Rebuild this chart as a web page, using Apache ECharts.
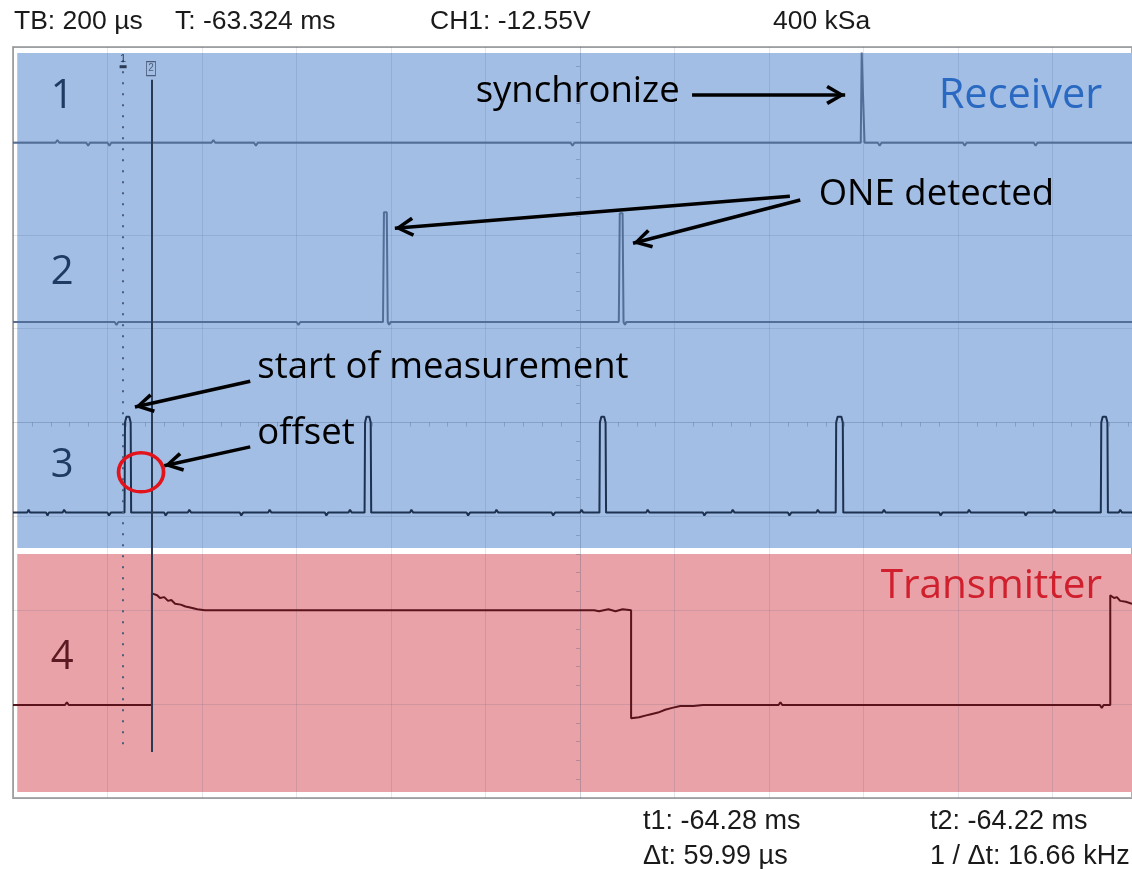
<!DOCTYPE html>
<html><head><meta charset="utf-8">
<script src="https://cdn.jsdelivr.net/npm/echarts@6/dist/echarts.min.js"></script>
<style>html,body{margin:0;padding:0;background:#fff}#c{width:1132px;height:869px}</style>
</head><body><div id="c"></div><script>
// Time axis in µs relative to screen centre (200 µs / div), vertical axis in divisions relative to centre.
const xTicks = { min: -1200, max: 1168, interval: 200 };
const yTicks = { min: -4, max: 4, interval: 1 };

// Coloured channel bands [x0, y0, x1, y1]
const receiverBand = [-1191, 3.936, 1168, -1.337];
const transmitterBand = [-1191, -1.401, 1168, -3.936];

// Channel 1 (synchronize)
const ch1 = [[-1200,2.98],[-1110,2.98],[-1106,3.01],[-1102,2.98],[-1045,2.98],[-1041,2.95],[-1037,2.98],[-1000,2.98],[-996,2.95],[-992,2.98],[-890,2.98],[-886,3.00],[-882,2.98],[-780,2.98],[-776,3.01],[-772,2.98],[-690,2.98],[-686,2.95],[-682,2.98],[-560,2.98],[-556,2.96],[-552,2.98],[-440,2.98],[-436,3.00],[-432,2.98],[-300,2.98],[-296,2.96],[-292,2.98],[-160,2.98],[-156,3.00],[-152,2.98],[-20,2.98],[-16,2.95],[-12,2.98],[130,2.98],[134,2.96],[138,2.98],[280,2.98],[284,3.00],[288,2.98],[400,2.98],[404,2.96],[408,2.98],[594,2.98],[596,3.94],[600,3.94],[602,2.98],[630,2.98],[634,2.95],[638,2.98],[690,2.98],[694,2.96],[698,2.98],[810,2.98],[814,2.95],[818,2.98],[920,2.98],[924,2.96],[928,2.98],[960,2.98],[964,2.95],[968,2.98],[1050,2.98],[1054,2.96],[1058,2.98],[1168,2.98]];

// Channel 2 (ONE detected)
const ch2 = [[-1200,1.07],[-1130,1.07],[-1126,1.05],[-1122,1.07],[-1060,1.07],[-1056,1.09],[-1052,1.07],[-985,1.07],[-981,1.04],[-977,1.07],[-900,1.07],[-896,1.05],[-892,1.07],[-800,1.07],[-796,1.09],[-792,1.07],[-700,1.07],[-696,1.05],[-692,1.07],[-600,1.07],[-596,1.04],[-592,1.07],[-500,1.07],[-496,1.05],[-492,1.07],[-417,1.07],[-415,2.24],[-409,2.24],[-407,1.07],[-404,1.04],[-401,1.07],[-330,1.07],[-326,1.05],[-322,1.07],[-250,1.07],[-246,1.09],[-242,1.07],[-170,1.07],[-166,1.05],[-162,1.07],[-90,1.07],[-86,1.05],[-82,1.07],[0,1.07],[4,1.09],[8,1.07],[60,1.07],[64,1.05],[68,1.07],[82,1.07],[84,2.23],[90,2.23],[92,1.07],[95,1.04],[98,1.07],[140,1.07],[144,1.09],[148,1.07],[220,1.07],[224,1.05],[228,1.07],[320,1.07],[324,1.05],[328,1.07],[420,1.07],[424,1.09],[428,1.07],[520,1.07],[524,1.05],[528,1.07],[620,1.07],[624,1.05],[628,1.07],[720,1.07],[724,1.09],[728,1.07],[820,1.07],[824,1.05],[828,1.07],[920,1.07],[924,1.05],[928,1.07],[1020,1.07],[1024,1.09],[1028,1.07],[1120,1.07],[1124,1.05],[1128,1.07],[1168,1.07]];

// Channel 3 (measurement pulses)
const ch3 = [[-1200,-0.96],[-1170,-0.96],[-1167,-0.93],[-1164,-0.96],[-1130,-0.96],[-1127,-0.99],[-1124,-0.96],[-1095,-0.96],[-1092,-0.93],[-1088,-0.96],[-1040,-0.96],[-1037,-0.94],[-1033,-0.96],[-1000,-0.96],[-997,-0.99],[-993,-0.96],
[-964,-0.96],[-963,0.0],[-960,0.06],[-954,0.06],[-951,0.0],[-950,-0.96],
[-930,-0.96],[-927,-0.94],[-923,-0.96],[-880,-0.96],[-877,-0.99],[-873,-0.96],[-830,-0.96],[-827,-0.93],[-823,-0.96],[-770,-0.96],[-767,-0.94],[-763,-0.96],[-720,-0.96],[-717,-0.99],[-713,-0.96],[-660,-0.96],[-657,-0.93],[-653,-0.96],[-600,-0.96],[-597,-0.94],[-593,-0.96],[-540,-0.96],[-537,-0.99],[-533,-0.96],[-490,-0.96],[-487,-0.93],[-483,-0.96],
[-456,-0.96],[-455,0.0],[-452,0.06],[-446,0.06],[-443,0.0],[-442,-0.96],
[-420,-0.96],[-417,-0.98],[-413,-0.96],[-360,-0.96],[-357,-0.93],[-353,-0.96],[-300,-0.96],[-297,-0.94],[-293,-0.96],[-240,-0.96],[-237,-0.99],[-233,-0.96],[-180,-0.96],[-177,-0.93],[-173,-0.96],[-120,-0.96],[-117,-0.94],[-113,-0.96],[-60,-0.96],[-57,-0.99],[-53,-0.96],[0,-0.96],[3,-0.93],[7,-0.96],
[41,-0.96],[42,0.0],[45,0.06],[51,0.06],[54,0.0],[55,-0.96],
[80,-0.96],[83,-0.98],[87,-0.96],[140,-0.96],[143,-0.93],[147,-0.96],[200,-0.96],[203,-0.94],[207,-0.96],[260,-0.96],[263,-0.99],[267,-0.96],[320,-0.96],[323,-0.93],[327,-0.96],[380,-0.96],[383,-0.94],[387,-0.96],[440,-0.96],[443,-0.99],[447,-0.96],[500,-0.96],[503,-0.93],[507,-0.96],
[541,-0.96],[542,0.0],[545,0.06],[553,0.06],[556,0.0],[557,-0.96],
[580,-0.96],[583,-0.98],[587,-0.96],[640,-0.96],[643,-0.93],[647,-0.96],[700,-0.96],[703,-0.94],[707,-0.96],[760,-0.96],[763,-0.99],[767,-0.96],[820,-0.96],[823,-0.93],[827,-0.96],[880,-0.96],[883,-0.94],[887,-0.96],[940,-0.96],[943,-0.99],[947,-0.96],[1000,-0.96],[1003,-0.93],[1007,-0.96],[1060,-0.96],[1063,-0.94],[1067,-0.96],
[1102,-0.96],[1103,0.0],[1106,0.06],[1113,0.06],[1116,0.0],[1117,-0.96],
[1140,-0.96],[1143,-0.93],[1147,-0.96],[1168,-0.96]];

// Channel 4 (transmitter)
const ch4 = [[-1200,-3.01],[-1150,-3.01],[-1146,-2.99],[-1142,-3.01],[-1120,-3.01],[-1116,-2.99],[-1112,-3.01],[-1090,-3.01],[-1086,-2.98],[-1082,-3.01],[-1070,-3.01],[-1066,-2.99],[-1060,-3.01],[-906,-3.01],[-906,-1.82],[-895,-1.84],[-889,-1.87],[-880,-1.86],[-872,-1.90],[-865,-1.89],[-857,-1.93],[-845,-1.94],[-835,-1.96],[-825,-1.97],[-810,-1.99],[-794,-2.0],[-760,-2.0],[-740,-2.0],[-738,-2.02],[-735,-2.0],[-680,-2.0],[-676,-1.99],[-600,-2.0],[-560,-2.0],[-556,-2.02],[-552,-2.0],[-480,-2.0],[-400,-2.0],[-396,-2.02],[-392,-2.0],[-300,-2.0],[-296,-1.98],[-292,-2.0],[-200,-2.0],[-150,-2.0],[-146,-2.02],[-142,-2.0],[-60,-2.0],[-56,-1.98],[-52,-2.0],[0,-2.0],[30,-2.0],[34,-1.98],[40,-2.01],[60,-1.99],[75,-2.01],[90,-1.99],[108,-2.0],[108,-3.15],[125,-3.14],[140,-3.12],[148,-3.11],[165,-3.09],[180,-3.06],[195,-3.04],[212,-3.02],[240,-3.02],[244,-3.0],[260,-3.01],[300,-3.01],[304,-3.03],[308,-3.01],[360,-3.01],[364,-2.99],[368,-3.01],[420,-3.01],[424,-2.98],[428,-3.01],[500,-3.01],[504,-2.99],[508,-3.01],[580,-3.01],[584,-3.03],[588,-3.01],[660,-3.01],[664,-2.99],[668,-3.01],[760,-3.01],[764,-2.99],[768,-3.01],[860,-3.01],[864,-3.03],[868,-3.01],[960,-3.01],[964,-2.99],[968,-3.01],[1060,-3.01],[1064,-2.99],[1068,-3.01],[1100,-3.01],[1104,-3.04],[1108,-3.01],[1122,-3.01],[1122,-1.84],[1130,-1.87],[1136,-1.86],[1143,-1.90],[1155,-1.91],[1168,-1.93]];

// Cursors [x, yTop, yBottom]
const cursor1 = [-967, 3.86, -3.51];
const cursor2 = [-906, 3.65, -3.51];

// Channel labels [text, x, y]
const channelLabels = [['1',-1096,3.47],['2',-1096,1.60],['3',-1096,-0.46],['4',-1096,-2.50]];

// Annotation texts [text, x, y]
const notes = [['synchronize',-222,3.52],['ONE detected',504,2.43],['start of measurement',-684,0.59],['offset',-684,-0.12]];
const receiverLabel = ['Receiver', 758, 3.48];
const transmitterLabel = ['Transmitter', 635, -1.75];
// Arrows [x1, y1, x2, y2] (head at second point)
const arrows = [[237,3.49,561,3.49],[444,2.41,-392,2.07],[466,2.37,112,1.91],[-698,0.44,-942,0.165],[-698,-0.26,-880,-0.46]];
// Offset circle [x, y]
const offsetCircle = [-929, -0.53];

// Header / footer readouts
const headerTexts = [['TB: 200 µs',14],['T: -63.324 ms',175],['CH1: -12.55V',430],['400 kSa',773]];
const footerTexts = [['t1: -64.28 ms',643,0],['t2: -64.22 ms',930,0],['Δt: 59.99 µs',643,1],['1 / Δt: 16.66 kHz',930,1]];

const gridColor = 'rgba(50,70,110,0.13)';
const tickColor = 'rgba(50,70,110,0.28)';
const chevron = 'path://M5,-10 L5.01,-10 L5,-9.99 Z M5,0 L10,9 L8.4,10 L5,3.4 L1.6,10 L0,9 Z';
const textFont = 'Open Sans';

const chart = echarts.init(document.getElementById('c'), null, { renderer: 'canvas' });

const axisCommon = {
  type: 'value', z: 3,
  axisLine: { show: true, onZero: true, lineStyle: { color: gridColor, width: 1 } },
  axisTick: { show: false },
  minorTick: { show: true, splitNumber: 5, length: 4, lineStyle: { color: tickColor, width: 1 } },
  axisLabel: { show: false },
  splitLine: { show: true, lineStyle: { color: gridColor, width: 1 } }
};

const traceStyle = (color, w) => ({ type: 'line', showSymbol: false, symbol: 'none', z: 5, silent: true, animation: false, lineStyle: { color: color, width: w }, itemStyle: { color: color } });

chart.setOption({
  animation: false,
  backgroundColor: '#ffffff',
  grid: { left: 13, right: 0, top: 47, bottom: 71, show: true, borderColor: '#adadad', borderWidth: 2, backgroundColor: 'rgba(0,0,0,0)' },
  xAxis: Object.assign({}, axisCommon, { min: xTicks.min, max: xTicks.max, interval: xTicks.interval }),
  yAxis: Object.assign({}, axisCommon, { min: yTicks.min, max: yTicks.max, interval: yTicks.interval }),
  graphic: headerTexts.map(t => ({ type: 'text', left: t[1], top: 8, z: 10, style: { text: t[0], font: '26.5px "Liberation Sans"', fill: '#1a1a1a' } }))
    .concat(footerTexts.map(t => ({ type: 'text', left: t[1], top: 808 + t[2] * 35, z: 10, style: { text: t[0], font: '27px "Liberation Sans"', fill: '#1a1a1a' } }))),
  series: [
    {
      name: 'bands', type: 'line', data: [], z: 1, silent: true,
      markArea: {
        silent: true, z: 1,
        data: [
          [{ coord: [receiverBand[0], receiverBand[1]], itemStyle: { color: '#a3bee4' } }, { coord: [receiverBand[2], receiverBand[3]] }],
          [{ coord: [transmitterBand[0], transmitterBand[1]], itemStyle: { color: '#e9a2a8' } }, { coord: [transmitterBand[2], transmitterBand[3]] }]
        ]
      }
    },
    Object.assign(traceStyle('#526e97', 2), { name: 'CH1', data: ch1 }),
    Object.assign(traceStyle('#526e97', 2), { name: 'CH2', data: ch2 }),
    Object.assign(traceStyle('#1d3150', 2), { name: 'CH3', data: ch3 }),
    Object.assign(traceStyle('#5a121b', 2), { name: 'CH4', data: ch4 }),
    {
      name: 'cursors', type: 'line', data: [], z: 6, silent: true,
      markLine: {
        silent: true, z: 6, symbol: ['none', 'none'], animation: false,
        label: { show: false },
        data: [
          [{ coord: [cursor1[0], cursor1[1]], lineStyle: { color: '#4b5d7c', width: 2, type: [2, 9] } }, { coord: [cursor1[0], cursor1[2]] }],
          [{ coord: [cursor2[0], cursor2[1]], lineStyle: { color: '#2a3a55', width: 2, type: 'solid' } }, { coord: [cursor2[0], cursor2[2]] }]
        ]
      },
      markPoint: {
        silent: true, z: 6, animation: false,
        data: [
          { coord: [cursor1[0], cursor1[1] - 0.07], symbol: 'rect', symbolSize: [7, 3], itemStyle: { color: '#2a3a55' },
            label: { show: true, position: 'top', distance: 1, formatter: '1', fontSize: 11, color: '#2a3a55', fontFamily: 'Liberation Sans' } },
          { coord: [cursor2[0] - 2, cursor2[1] + 0.12], symbol: 'rect', symbolSize: [9, 14], itemStyle: { color: 'rgba(0,0,0,0)', borderColor: '#4b5d7c', borderWidth: 1 },
            label: { show: true, position: 'inside', formatter: '2', fontSize: 10, color: '#4b5d7c', fontFamily: 'Liberation Sans' } }
        ]
      }
    },
    {
      name: 'notes', type: 'line', data: [], z: 8, silent: true,
      markLine: {
        silent: true, z: 8, animation: false,
        symbol: ['none', chevron], symbolSize: [20, 38],
        label: { show: false },
        lineStyle: { color: '#000000', width: 3.5, type: 'solid' },
        itemStyle: { color: '#000000' },
        data: arrows.map(a => [{ coord: [a[0], a[1]] }, { coord: [a[2], a[3]] }])
      },
      markPoint: {
        silent: true, z: 8, animation: false,
        data: notes.map(n => ({ coord: [n[1], n[2]], symbol: 'rect', symbolSize: 1, itemStyle: { color: 'rgba(0,0,0,0)' },
            label: { show: true, position: 'right', distance: 0, formatter: n[0], color: '#000000', fontSize: 36.5, fontFamily: textFont } }))
          .concat([
            { coord: [receiverLabel[1], receiverLabel[2]], symbol: 'rect', symbolSize: 1, itemStyle: { color: 'rgba(0,0,0,0)' },
              label: { show: true, position: 'right', distance: 0, formatter: receiverLabel[0], color: '#2a69c2', fontSize: 41.5, fontFamily: textFont } },
            { coord: [transmitterLabel[1], transmitterLabel[2]], symbol: 'rect', symbolSize: 1, itemStyle: { color: 'rgba(0,0,0,0)' },
              label: { show: true, position: 'right', distance: 0, formatter: transmitterLabel[0], color: '#d0202e', fontSize: 40.5, fontFamily: textFont } },
            { coord: offsetCircle, symbol: 'circle', symbolSize: [45, 39], itemStyle: { color: 'rgba(0,0,0,0)', borderColor: '#e3131b', borderWidth: 3.5 }, label: { show: false } }
          ])
          .concat(channelLabels.map((c, i) => ({ coord: [c[1], c[2]], symbol: 'rect', symbolSize: 1, itemStyle: { color: 'rgba(0,0,0,0)' },
            label: { show: true, position: 'inside', formatter: c[0], color: i === 3 ? '#5b1a22' : '#1f3a63', fontSize: 40, fontFamily: textFont } })))
      }
    }
  ]
});
</script></body></html>
